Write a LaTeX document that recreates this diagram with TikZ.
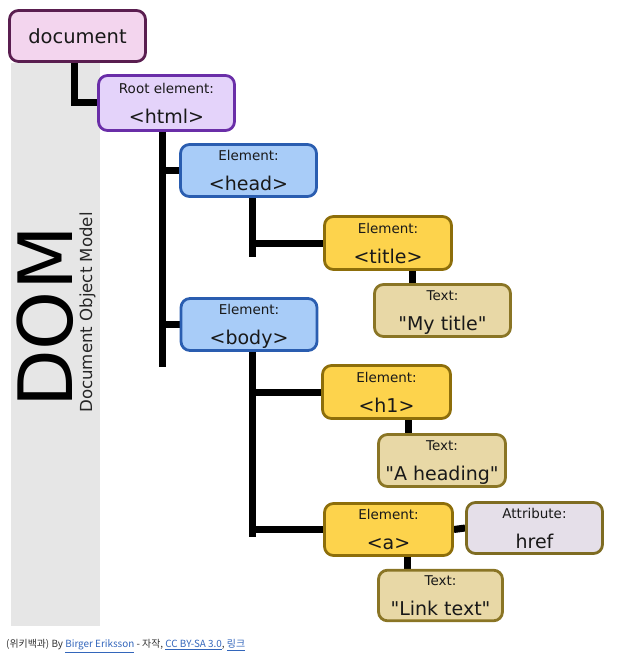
\documentclass[tikz,border=0pt]{standalone}
\usepackage{fontspec}
\setmainfont{DejaVu Sans}[Ligatures=TeXOff]
\newfontfamily\krfont{Noto Sans CJK KR}
\usetikzlibrary{backgrounds}
\definecolor{docfill}{HTML}{F3D5EE}
\definecolor{docdraw}{HTML}{5A1E50}
\definecolor{htmlfill}{HTML}{E4D3FA}
\definecolor{htmldraw}{HTML}{6A2EA8}
\definecolor{bluefill}{HTML}{A8CCF8}
\definecolor{bluedraw}{HTML}{2A5DB0}
\definecolor{yelfill}{HTML}{FDD34C}
\definecolor{yeldraw}{HTML}{8D6E0A}
\definecolor{txtfill}{HTML}{E8D8A6}
\definecolor{txtdraw}{HTML}{8A7525}
\definecolor{attrfill}{HTML}{E5DFE9}
\definecolor{attrdraw}{HTML}{7E6C22}
\definecolor{bandgray}{HTML}{E6E6E6}
\definecolor{linkblue}{HTML}{3366BB}
\definecolor{captext}{HTML}{333333}
\newcommand\smallsz{\fontsize{13.5}{16}\selectfont}
\newcommand\bigsz{\fontsize{19}{23}\selectfont}
\newcommand\twol[2]{{\smallsz\rule{0pt}{15.6pt}#1}\\[7pt]\rule[-5pt]{0pt}{5pt}#2}
\newcommand\lnk[1]{\textcolor{linkblue}{\underline{#1}}}
\begin{document}
\begin{tikzpicture}[x=1pt,y=-1pt,
  box/.style={draw, rounded corners=9pt, line width=2.8pt, inner sep=0pt, align=center, text=black!90, font=\bigsz},
  docbox/.style={box, fill=docfill, draw=docdraw},
  htmlbox/.style={box, fill=htmlfill, draw=htmldraw},
  bluebox/.style={box, fill=bluefill, draw=bluedraw},
  yelbox/.style={box, fill=yelfill, draw=yeldraw},
  txtbox/.style={box, fill=txtfill, draw=txtdraw},
  attrbox/.style={box, fill=attrfill, draw=attrdraw},
  conn/.style={line width=7pt, black},
]
\useasboundingbox (0,0) rectangle (620,666);

% nodes
\node[docbox, minimum width=136pt, minimum height=51pt, font=\fontsize{19.5}{23}\selectfont] (document) at (77.5,36) {document};
\node[htmlbox, minimum width=136pt, minimum height=55pt] (html) at (166.5,103) {\twol{Root element:}{<html>}};
\node[bluebox, minimum width=136pt, minimum height=52pt] (head) at (248.5,170.5) {\twol{Element:}{<head>}};
\node[bluebox, minimum width=136pt, minimum height=52pt] (body) at (249,324.5) {\twol{Element:}{<body>}};
\node[yelbox, minimum width=127pt, minimum height=53pt] (title) at (388,243) {\twol{Element:}{<title>}};
\node[txtbox, minimum width=136pt, minimum height=52pt] (mytitle) at (442.5,310.5) {\twol{Text:}{"My title"}};
\node[yelbox, minimum width=128pt, minimum height=53pt] (h1) at (386.5,392) {\twol{Element:}{<h1>}};
\node[txtbox, minimum width=127pt, minimum height=52pt] (heading) at (442,460.5) {\twol{Text:}{"A heading"}};
\node[yelbox, minimum width=128pt, minimum height=52pt] (a) at (388.5,529.5) {\twol{Element:}{<a>}};
\node[attrbox, minimum width=136pt, minimum height=51pt] (href) at (534.5,528) {\twol{Attribute:}{href}};
\node[txtbox, minimum width=124pt, minimum height=50pt] (link) at (440.5,595.5) {\twol{Text:}{"Link text"}};

% DOM label
\node[rotate=90, anchor=base, inner sep=0pt, font=\fontsize{75}{80}\selectfont, text=black] (dom) at (72,317) {DOM};
\node[rotate=90, anchor=base, inner sep=0pt, font=\fontsize{16.6}{19}\selectfont, text=black!85] (dommodel) at (92,312.5) {Document Object Model};

% caption
\node[anchor=west, inner sep=0pt, text=captext, font=\krfont\fontsize{9.9}{11}\selectfont] (caption) at (6,646) {(위키백과) By \lnk{Birger Eriksson} - 자작, \lnk{CC BY-SA 3.0}, \lnk{링크}};

% trunk end points
\coordinate (t0) at (74,101);
\coordinate (t1) at (162,367);
\coordinate (t2) at (252,257);
\coordinate (t3) at (252,537);

\begin{scope}[on background layer]
  \fill[bandgray] (11,63) rectangle (100,626);
  \draw[conn] (document.south -| t0) |- (html.west);
  \draw[conn] (html.south -| t1) -- (t1);
  \draw[conn] (t1 |- head.west) -- (head.west);
  \draw[conn] (t1 |- body.west) -- (body.west);
  \draw[conn] (head.south -| t2) -- (t2);
  \draw[conn] (t2 |- title.west) -- (title.west);
  \draw[conn] (body.south -| t3) -- (t3);
  \draw[conn] (t3 |- h1.west) -- (h1.west);
  \draw[conn] (t3 |- a.west) -- (a.west);
  \draw[conn] ([xshift=-30.5pt]mytitle.north) -- ([xshift=-30.5pt]mytitle.north |- title.south);
  \draw[conn] ([xshift=-34pt]heading.north) -- ([xshift=-34pt]heading.north |- h1.south);
  \draw[conn] ([xshift=-33.5pt]link.north) -- ([xshift=-33.5pt]link.north |- a.south);
  \draw[conn] (a.east) -- (href.west);
\end{scope}
\end{tikzpicture}
\end{document}
